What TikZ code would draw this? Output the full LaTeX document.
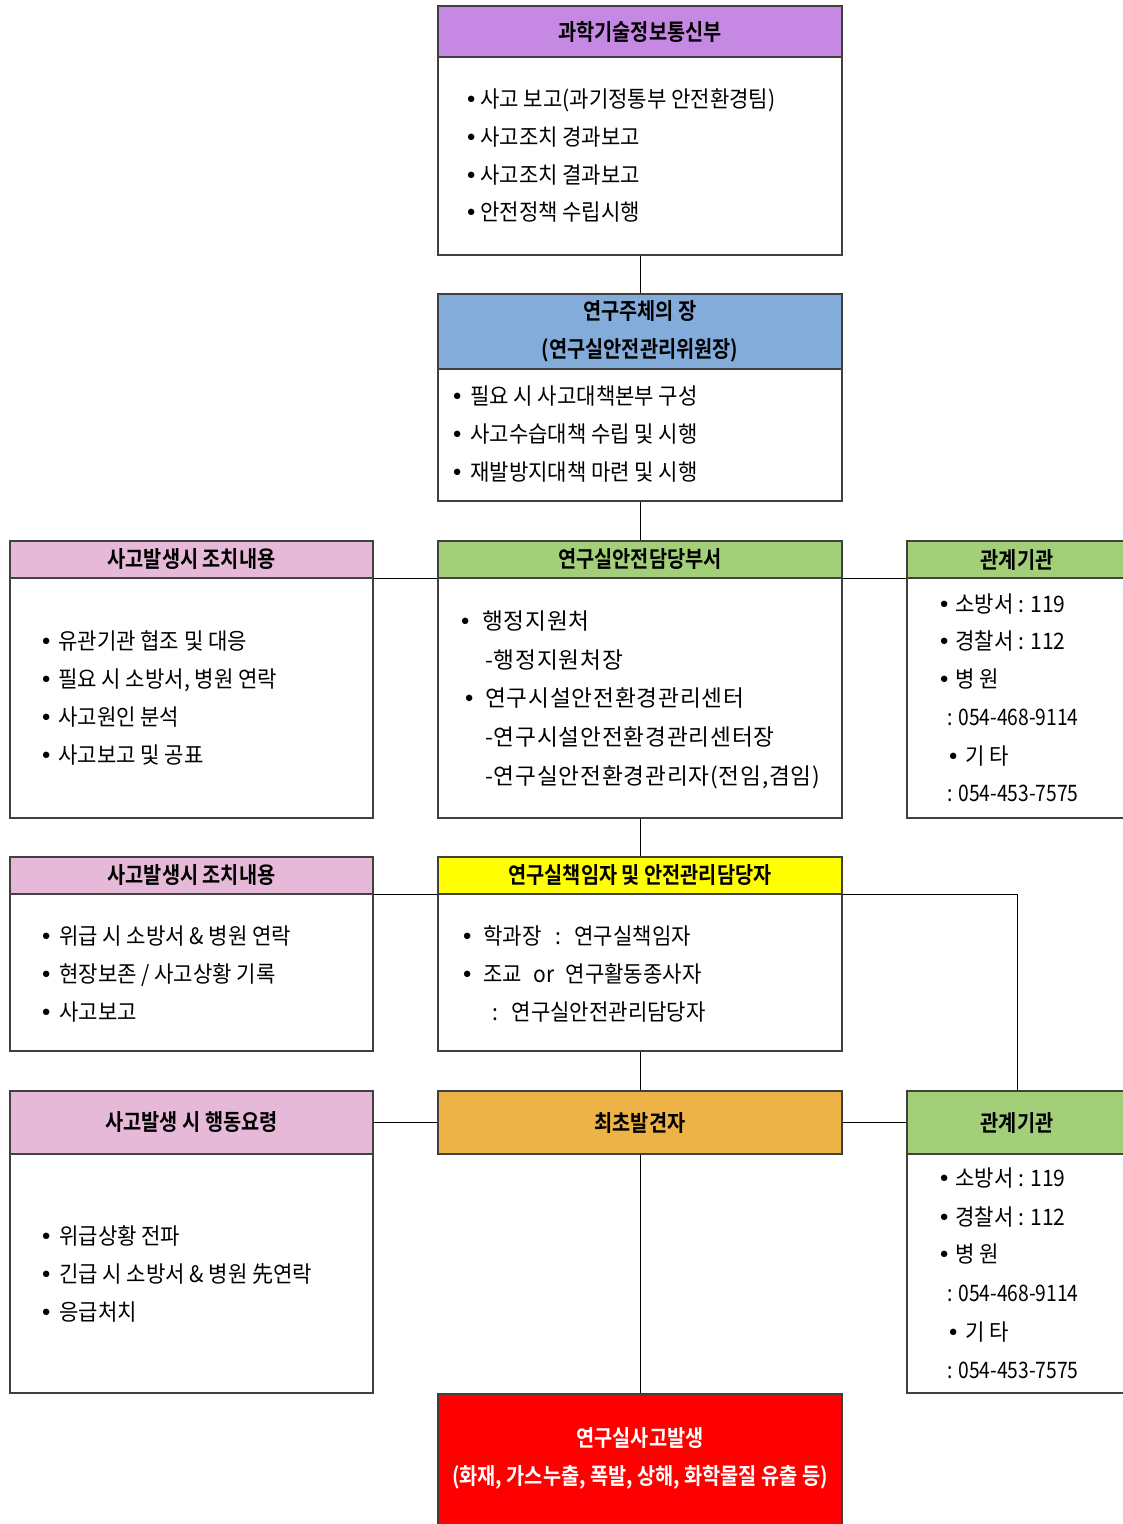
\documentclass[tikz,border=0pt]{standalone}
\usepackage{fontspec}
\setmainfont{Noto Sans CJK KR}[FakeStretch=0.93]
\newfontfamily\krw{Noto Sans CJK KR}[LetterSpace=3.5]
\newfontfamily\krn{Noto Sans CJK KR}[FakeStretch=0.85]
\newfontfamily\krh{Noto Sans CJK KR Bold}[FakeStretch=0.87]
\usetikzlibrary{fit}
\definecolor{cpurple}{HTML}{C689E3}
\definecolor{cblue}{HTML}{84ACDA}
\definecolor{cpink}{HTML}{E6B9D8}
\definecolor{cgreen}{HTML}{A3CF79}
\definecolor{cyellow}{HTML}{FFFF00}
\definecolor{corange}{HTML}{EDB347}
\definecolor{cred}{HTML}{FF0000}
\definecolor{bord}{HTML}{404040}
\newcommand\bul[1][8.25pt]{\makebox[0pt]{\raisebox{2.6pt}{\scalebox{0.72}{$\bullet$}}}\hspace*{#1}}
\newcommand\colsp{\hspace{0.6em}:\hspace{0.6em}}
\begin{document}
\begin{tikzpicture}[x=0.75pt,y=-0.75pt,
  box/.style={draw=bord, line width=0.9pt, inner sep=0pt, fill=white},
  hd/.style={box, fill=#1},
  ht/.style={font=\krh\fontsize{17}{28.5}\selectfont, align=center, inner sep=0pt},
  ln/.style={anchor=base west, inner sep=0pt, font=\fontsize{17}{19}\selectfont},
  lw/.style={anchor=base west, inner sep=0pt, font=\krw\fontsize{17}{19}\selectfont},
  lnum/.style={anchor=base west, inner sep=0pt, font=\krn\fontsize{17}{19}\selectfont},
  conn/.style={draw=black, line width=0.75pt}]
\path[use as bounding box] (0,0) rectangle (1123,1524);
\clip (0,0) rectangle (1123,1524);

% boxes
\node[box, fit={(438,6)(842,255)}] (b1) {};
\node[hd=cpurple, fit={(438,6)(842,57)}] (h1) {};
\node[box, fit={(438,294)(842,501)}] (b2) {};
\node[hd=cblue, fit={(438,294)(842,369)}] (h2) {};

\node[box, fit={(10,541)(373,818)}] (b3l) {};
\node[hd=cpink, fit={(10,541)(373,578)}] (h3l) {};
\node[box, fit={(438,541)(842,818)}] (b3c) {};
\node[hd=cgreen, fit={(438,541)(842,578)}] (h3c) {};
\node[box, fit={(907,541)(1127,818)}] (b3r) {};
\node[hd=cgreen, fit={(907,541)(1127,578)}] (h3r) {};

\node[box, fit={(10,857)(373,1051)}] (b4l) {};
\node[hd=cpink, fit={(10,857)(373,894)}] (h4l) {};
\node[box, fit={(438,857)(842,1051)}] (b4c) {};
\node[hd=cyellow, fit={(438,857)(842,894)}] (h4c) {};

\node[box, fit={(10,1091)(373,1393)}] (b5l) {};
\node[hd=cpink, fit={(10,1091)(373,1154)}] (h5l) {};
\node[hd=corange, fit={(438,1091)(842,1154)}] (h5c) {};
\node[box, fit={(907,1091)(1127,1393)}] (b5r) {};
\node[hd=cgreen, fit={(907,1091)(1127,1154)}] (h5r) {};
\node[hd=cred, fit={(438,1394)(842,1540)}] (red) {};

% connectors
\draw[conn] (b1.south) -- (h2.north);
\draw[conn] (b2.south) -- (h3c.north);
\draw[conn] (h3l.south east) -- (h3c.south west);
\draw[conn] (h3c.south east) -- (h3r.south west);
\draw[conn] (b3c.south) -- (h4c.north);
\draw[conn] (h4l.south east) -- (h4c.south west);
\draw[conn] (h4c.south east) -| (h5r.north);
\draw[conn] (b4c.south) -- (h5c.north);
\draw[conn] (h5l.east) -- (h5c.west);
\draw[conn] (h5c.east) -- (h5r.west);
\draw[conn] (h5c.south) -- (red.north);

% header texts
\node[ht] (h1t) at (h1.center) {과학기술정보통신부};
\node[ht] (h2t) at (h2.center) {연구주체의 장\\(연구실안전관리위원장)};
\node[ht] (h3lt) at (h3l.center) {사고발생시 조치내용};
\node[ht] (h3ct) at (h3c.center) {연구실안전담당부서};
\node[ht] (h3rt) at (h3r.center) {관계기관};
\node[ht] (h4lt) at (h4l.center) {사고발생시 조치내용};
\node[ht] (h4ct) at (h4c.center) {연구실책임자 및 안전관리담당자};
\node[ht] (h5lt) at (h5l.center) {사고발생 시 행동요령};
\node[ht] (h5ct) at (h5c.center) {최초발견자};
\node[ht] (h5rt) at (h5r.center) {관계기관};
\node[ht, text=white] (redt) at (640,1458) {연구실사고발생\\(화재, 가스누출, 폭발, 상해, 화학물질 유출 등)};

% box 1
\node[ln] (t1a) at (471,107) {\bul[6.75pt]사고 보고(과기정통부 안전환경팀)};
\node[ln] (t1b) at (471,145) {\bul[6.75pt]사고조치 경과보고};
\node[ln] (t1c) at (471,183) {\bul[6.75pt]사고조치 결과보고};
\node[ln] (t1d) at (471,220) {\bul[6.75pt]안전정책 수립시행};

% box 2
\node[ln] (t2a) at (457,404) {\bul[9.75pt]필요 시 사고대책본부 구성};
\node[ln] (t2b) at (457,442) {\bul[9.75pt]사고수습대책 수립 및 시행};
\node[ln] (t2c) at (457,480) {\bul[9.75pt]재발방지대책 마련 및 시행};

% row 3 left
\node[ln] (t3la) at (46,649) {\bul[9pt]유관기관 협조 및 대응};
\node[ln] (t3lb) at (46,687) {\bul[9pt]필요 시 소방서, 병원 연락};
\node[ln] (t3lc) at (46,725) {\bul[9pt]사고원인 분석};
\node[ln] (t3ld) at (46,763) {\bul[9pt]사고보고 및 공표};

% row 3 centre
\node[lw] (t3ca) at (465,629) {\bul[12.75pt]행정지원처};
\node[lw] (t3cb) at (485,668) {-행정지원처장};
\node[lw] (t3cc) at (469,706) {\bul[12pt]연구시설안전환경관리센터};
\node[lw] (t3cd) at (485,745) {-연구시설안전환경관리센터장};
\node[lw] (t3ce) at (485,784) {-연구실안전환경관리자(전임,겸임)};

% row 3 right
\node[ln] (t3ra) at (944,612) {\bul[8.25pt]소방서 : 119};
\node[ln] (t3rb) at (944,649) {\bul[8.25pt]경찰서 : 112};
\node[ln] (t3rc) at (944,687) {\bul[8.25pt]병 원};
\node[lnum] (t3rd) at (947,725) {: 054-468-9114};
\node[ln] (t3re) at (953,764) {\bul[9pt]기 타};
\node[lnum] (t3rf) at (947,801) {: 054-453-7575};

% row 4 left
\node[ln] (t4la) at (46,944) {\bul[9.75pt]위급 시 소방서 \& 병원 연락};
\node[ln] (t4lb) at (46,982) {\bul[9.75pt]현장보존 / 사고상황 기록};
\node[ln] (t4lc) at (46,1020) {\bul[9.75pt]사고보고};

% row 4 centre
\node[ln] (t4ca) at (467,944) {\bul[12pt]학과장\colsp 연구실책임자};
\node[ln] (t4cb) at (467,982) {\bul[12pt]조교\hspace{0.5em}or\hspace{0.5em}연구활동종사자};
\node[ln] (t4cc) at (492,1020) {:\hspace{0.6em}연구실안전관리담당자};

% row 5 left
\node[ln] (t5la) at (46,1244) {\bul[9.75pt]위급상황 전파};
\node[ln] (t5lb) at (46,1282) {\bul[9.75pt]긴급 시 소방서 \& 병원 先연락};
\node[ln] (t5lc) at (46,1320) {\bul[9.75pt]응급처치};

% row 5 right
\node[ln] (t5ra) at (944,1186) {\bul[8.25pt]소방서 : 119};
\node[ln] (t5rb) at (944,1225) {\bul[8.25pt]경찰서 : 112};
\node[ln] (t5rc) at (944,1262) {\bul[8.25pt]병 원};
\node[lnum] (t5rd) at (947,1301) {: 054-468-9114};
\node[ln] (t5re) at (953,1340) {\bul[9pt]기 타};
\node[lnum] (t5rf) at (947,1378) {: 054-453-7575};
\end{tikzpicture}
\end{document}
